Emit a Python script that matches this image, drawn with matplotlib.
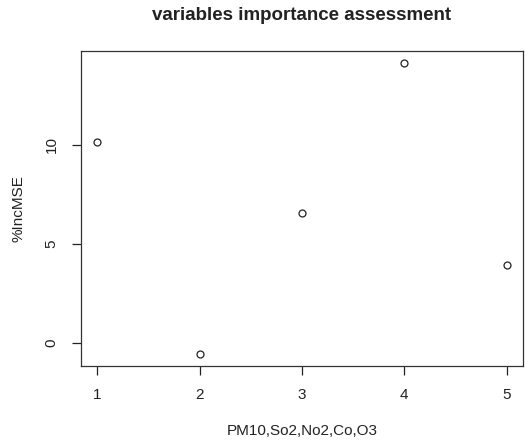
import matplotlib
matplotlib.use("Agg")
import matplotlib.pyplot as plt

plt.rcParams['font.family'] = ['Liberation Sans', 'DejaVu Sans']

variables = [1, 2, 3, 4, 5]
inc_mse = [10.15, -0.56, 6.55, 14.14, 3.92]
xticks = [1, 2, 3, 4, 5]
yticks = [0, 5, 10]

W, H = 525, 445
fig = plt.figure(figsize=(W / 100, H / 100), dpi=100)
ax = fig.add_axes([81 / W, (H - 366) / H, (523 - 81) / W, (366 - 51) / H])

col = '#222222'
ax.plot(variables, inc_mse, linestyle='none', marker='o', markersize=5,
        markerfacecolor='white', markeredgecolor=col, markeredgewidth=0.9)

xr = max(variables) - min(variables)
ax.set_xlim(min(variables) - 0.04 * xr, max(variables) + 0.04 * xr)
yr = max(inc_mse) - min(inc_mse)
ax.set_ylim(min(inc_mse) - 0.04 * yr, max(inc_mse) + 0.04 * yr)

ax.set_xticks(xticks)
ax.set_yticks(yticks)
ax.set_xticklabels([str(v) for v in xticks])
ax.set_yticklabels([str(v) for v in yticks], rotation=90, va='center')
ax.tick_params(axis='both', length=6.5, width=0.9, color=col, labelcolor=col,
               labelsize=11, pad=9.5)
for s in ax.spines.values():
    s.set_color('#333333')
    s.set_linewidth(0.9)

ax.set_xlabel('PM10,So2,No2,Co,O3', fontsize=11, color=col, labelpad=16)
ax.set_ylabel('%IncMSE', fontsize=11, color=col, labelpad=14)
fig.text(0.5 + 0.5 * (81 + 523 - W) / W, 1 - 15 / H, 'variables importance assessment',
         ha='center', va='center', fontsize=13.5, fontweight='bold', color=col)

fig.savefig('out.png', dpi=100, facecolor='white')
